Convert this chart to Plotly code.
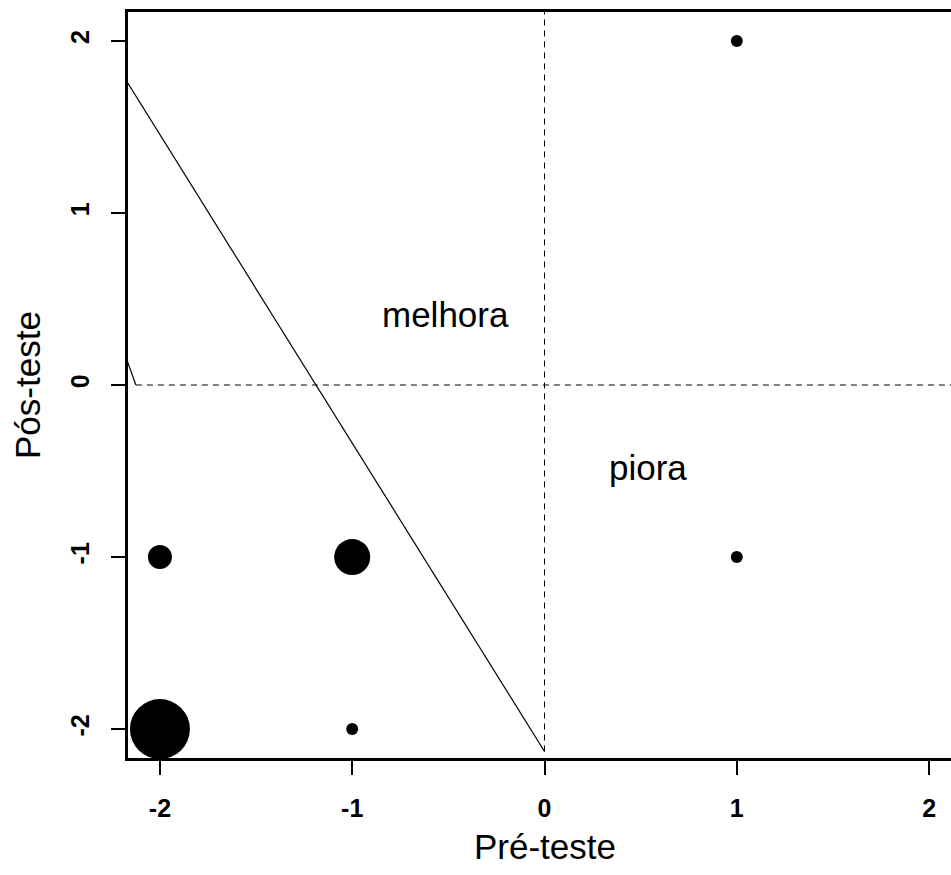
import plotly.graph_objects as go

# Frequency of each (pre, post) score pair
pre = [-2, -2, -1, -1, 1, 1]
post = [-2, -1, -1, -2, 2, -1]
freq = [5, 2, 3, 1, 1, 1]

ticks = [-2, -1, 0, 1, 2]
tick_labels = ["-2", "-1", "0", "1", "2"]

# Reference lines
diag_x = [-2.17, 0.0]
diag_y = [1.76, -2.13]
stub_x = [-2.17, -2.125]
stub_y = [0.14, 0.0]

region_labels = ["melhora", "piora"]
region_x = [-0.514, 0.54]
region_y = [0.41, -0.48]

FONT = "Liberation Sans, Arial, sans-serif"
PX_PER_FREQ = 12

fig = go.Figure()

# dashed quadrant lines
fig.add_trace(go.Scatter(x=[0, 0], y=[-2.13, 2.3], mode="lines",
                         line=dict(color="black", width=1, dash="6px,5px"),
                         hoverinfo="skip", showlegend=False))
fig.add_trace(go.Scatter(x=[-2.125, 2.3], y=[0, 0], mode="lines",
                         line=dict(color="black", width=1, dash="6px,5px"),
                         hoverinfo="skip", showlegend=False))
# solid lines
fig.add_trace(go.Scatter(x=diag_x, y=diag_y, mode="lines",
                         line=dict(color="black", width=1.2),
                         hoverinfo="skip", showlegend=False))
fig.add_trace(go.Scatter(x=stub_x, y=stub_y, mode="lines",
                         line=dict(color="black", width=1.2),
                         hoverinfo="skip", showlegend=False))

# bubbles sized by frequency
fig.add_trace(go.Scatter(x=pre, y=post, mode="markers",
                         marker=dict(color="black", opacity=1,
                                     size=[f * PX_PER_FREQ for f in freq],
                                     line=dict(width=0)),
                         cliponaxis=False, showlegend=False))

for lab, lx, ly in zip(region_labels, region_x, region_y):
    fig.add_annotation(x=lx, y=ly, text=lab, showarrow=False,
                       font=dict(family=FONT, size=35, color="black"))

# axis titles
fig.add_annotation(x=0, xref="x", y=0, yref="paper", yanchor="middle",
                   yshift=-88, text="Pré-teste", showarrow=False,
                   font=dict(family=FONT, size=35, color="black"))
fig.add_annotation(x=0, xref="paper", y=0, yref="y", xanchor="center",
                   xshift=-101, text="Pós-teste", textangle=-90, showarrow=False,
                   font=dict(family=FONT, size=35, color="black"))

axis_common = dict(
    tickvals=ticks, ticktext=tick_labels,
    ticks="outside", ticklen=14, tickwidth=2, tickcolor="black",
    showline=True, linecolor="black", linewidth=2.5,
    showgrid=False, zeroline=False,
    tickfont=dict(family=FONT, size=25, color="black", weight="bold"),
)

fig.update_xaxes(range=[-2.166, 2.114], mirror=True,
                 ticklabelstandoff=12, **axis_common)
fig.update_yaxes(range=[-2.168, 2.168], mirror=False, tickangle=-90,
                 ticklabelstandoff=12, **axis_common)

fig.update_layout(
    width=951, height=875,
    margin=dict(l=128, r=0, t=12, b=117),
    plot_bgcolor="white", paper_bgcolor="white",
    font=dict(family=FONT, color="black"),
)

fig.write_html("out.html")
